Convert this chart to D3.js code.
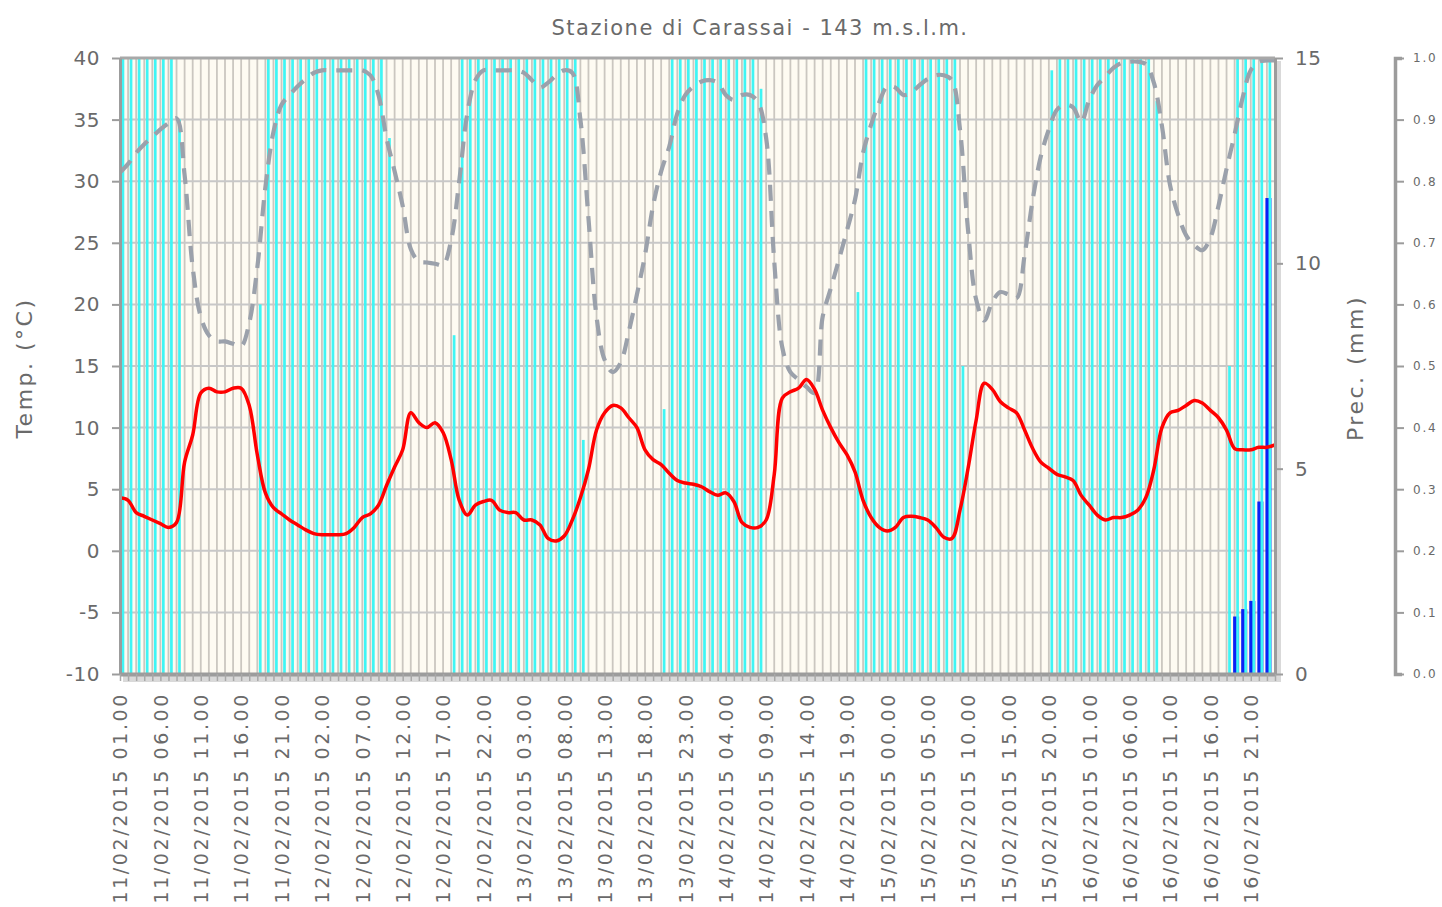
<!DOCTYPE html>
<html><head><meta charset="utf-8">
<script src="https://cdn.jsdelivr.net/npm/d3@7/dist/d3.min.js"></script>
<style>
html,body{margin:0;padding:0;background:#fff;}
svg{display:block;font-family:"DejaVu Sans",Verdana,sans-serif;}
</style></head>
<body>
<svg id="chart" width="1442" height="907"></svg>
<script>
// ---------------- DATA ----------------
const title = "Stazione di Carassai - 143 m.s.l.m.";

// Temperature (°C), hourly from 11/02/2015 01.00, 144 values
const temperature = [
  4.3,4.1,3.1,2.8,2.5,2.2,1.9,2.3,7.2,9.4,
  12.8,13.2,12.9,12.9,13.2,13.2,11.8,7.8,4.7,3.5,
  3.0,2.5,2.1,1.7,1.4,1.3,1.3,1.3,1.4,1.9,
  2.7,3.0,3.7,5.3,6.8,8.2,11.2,10.4,10.0,10.4,
  9.6,7.4,4.1,2.9,3.7,4.0,4.1,3.3,3.1,3.1,
  2.5,2.5,2.1,1.0,0.8,1.2,2.5,4.3,6.6,9.8,
  11.2,11.8,11.6,10.8,10.0,8.2,7.4,7.0,6.3,5.7,
  5.5,5.4,5.2,4.8,4.5,4.7,4.0,2.3,1.9,1.9,
  2.5,6.2,12.4,12.9,13.2,13.9,13.1,11.4,10.0,8.8,
  7.8,6.4,4.1,2.7,1.9,1.6,1.9,2.7,2.8,2.7,
  2.5,1.9,1.1,1.0,3.3,6.7,10.6,13.6,13.1,12.1,
  11.6,11.2,9.8,8.3,7.2,6.7,6.2,6.0,5.7,4.5,
  3.7,2.9,2.5,2.7,2.7,2.9,3.3,4.3,6.6,10.0,
  11.2,11.4,11.8,12.2,12.0,11.4,10.8,9.8,8.3,8.2,
  8.2,8.4,8.4,8.6
];

// Relative humidity (0-1), hourly, 144 values
const humidity = [
  .814,.828,.846,.860,.872,.884,.894,.902,.810,.660,
  .580,.550,.540,.540,.536,.532,.570,.660,.790,.880,
  .924,.940,.954,.966,.976,.980,.980,.980,.980,.980,
  .980,.972,.940,.870,.816,.760,.690,.670,.668,.666,
  .664,.704,.800,.910,.964,.980,.980,.980,.980,.980,
  .976,.964,.952,.960,.972,.980,.976,.900,.740,.580,
  .510,.490,.506,.556,.616,.680,.760,.816,.856,.910,
  .940,.954,.962,.964,.960,.940,.932,.940,.940,.928,
  .870,.670,.530,.490,.478,.466,.456,.580,.626,.672,
  .720,.770,.846,.892,.928,.954,.952,.940,.944,.956,
  .966,.972,.972,.964,.884,.720,.608,.574,.604,.620,
  .616,.610,.680,.770,.840,.884,.916,.924,.920,.896,
  .932,.956,.970,.984,.992,.994,.994,.990,.960,.890,
  .794,.746,.712,.696,.688,.708,.760,.820,.876,.936,
  .980,.994,.996,.996
];

// Leaf wetness (0-1), hourly, 144 values (cyan bars)
const wetness = [
  1,1,1,1,1,1,1,.9,0,0,
  0,0,0,0,0,0,0,.6,1,1,
  1,1,1,1,1,1,1,1,1,1,
  1,1,1,.87,0,0,0,0,0,0,
  0,.55,1,1,1,1,1,1,1,1,
  1,1,1,1,1,1,1,.38,0,0,
  0,0,0,0,0,0,0,.43,1,1,
  1,1,1,1,1,1,1,1,1,.95,
  0,0,0,0,0,0,0,0,0,0,
  0,.62,1,1,1,1,1,1,1,1,
  1,1,1,1,.5,0,0,0,0,0,
  0,0,0,0,0,.98,1,1,1,1,
  1,1,1,1,1,1,1,1,.93,0,
  0,0,0,0,0,0,0,.5,1,1,
  1,1,1,0
];

// Precipitation (mm), hourly, 144 values
const precipitation = [
  0,0,0,0,0,0,0,0,0,0, 0,0,0,0,0,0,0,0,0,0,
  0,0,0,0,0,0,0,0,0,0, 0,0,0,0,0,0,0,0,0,0,
  0,0,0,0,0,0,0,0,0,0, 0,0,0,0,0,0,0,0,0,0,
  0,0,0,0,0,0,0,0,0,0, 0,0,0,0,0,0,0,0,0,0,
  0,0,0,0,0,0,0,0,0,0, 0,0,0,0,0,0,0,0,0,0,
  0,0,0,0,0,0,0,0,0,0, 0,0,0,0,0,0,0,0,0,0,
  0,0,0,0,0,0,0,0,0,0, 0,0,0,0,0,0,0,0,1.40,1.58,
  1.78,4.20,11.59,0
];

// X tick labels every 5 hours
const xTickLabels = [
  "11/02/2015 01.00","11/02/2015 06.00","11/02/2015 11.00","11/02/2015 16.00","11/02/2015 21.00",
  "12/02/2015 02.00","12/02/2015 07.00","12/02/2015 12.00","12/02/2015 17.00","12/02/2015 22.00",
  "13/02/2015 03.00","13/02/2015 08.00","13/02/2015 13.00","13/02/2015 18.00","13/02/2015 23.00",
  "14/02/2015 04.00","14/02/2015 09.00","14/02/2015 14.00","14/02/2015 19.00","15/02/2015 00.00",
  "15/02/2015 05.00","15/02/2015 10.00","15/02/2015 15.00","15/02/2015 20.00","16/02/2015 01.00",
  "16/02/2015 06.00","16/02/2015 11.00","16/02/2015 16.00","16/02/2015 21.00"
];
const tempTicks = [-10,-5,0,5,10,15,20,25,30,35,40];
const precTicks = [0,5,10,15];
const fracTicks = [0,0.1,0.2,0.3,0.4,0.5,0.6,0.7,0.8,0.9,1.0];

// ---------------- CHART ----------------
const svg = d3.select("#chart");
const L = 120, R = 1275, T = 58, B = 674;
const n = temperature.length;
const hours = d3.range(n);

const x = d3.scaleLinear().domain([0, n - 1]).range([L, R]);
const yT = d3.scaleLinear().domain([-10, 40]).range([B, T]);
const yP = d3.scaleLinear().domain([0, 15]).range([B, T]);
const yH = d3.scaleLinear().domain([0, 1]).range([B, T]);

const axisCol = "#9c9c9c", textCol = "#6a6a6a";

// shadow + background
svg.append("rect").attr("x", L + 3).attr("y", T + 3).attr("width", R - L + 3).attr("height", B - T + 5).attr("fill", "#d9d9d9");
svg.append("rect").attr("x", L).attr("y", T).attr("width", R - L).attr("height", B - T).attr("fill", "#fefbf2");

svg.append("clipPath").attr("id", "pc").append("rect")
  .attr("x", L).attr("y", T).attr("width", R - L).attr("height", B - T);
const plot = svg.append("g").attr("clip-path", "url(#pc)");

// vertical grid lines (each hour)
plot.append("g").selectAll("line").data(hours).join("line")
  .attr("x1", d => x(d)).attr("x2", d => x(d)).attr("y1", T).attr("y2", B)
  .attr("stroke", "#cbc7c0").attr("stroke-width", 1.8);
// horizontal grid lines
plot.append("g").selectAll("line").data(tempTicks).join("line")
  .attr("x1", L).attr("x2", R).attr("y1", d => yT(d)).attr("y2", d => yT(d))
  .attr("stroke", "#c8c8c8").attr("stroke-width", 2);

// precipitation bars
plot.append("g").selectAll("rect").data(hours.filter(i => precipitation[i] > 0)).join("rect")
  .attr("x", d => x(d) - 1.5).attr("width", 6)
  .attr("y", d => yP(precipitation[d])).attr("height", d => B - yP(precipitation[d]))
  .attr("fill", "#0a22f5");

// wetness cyan bars
plot.append("g").selectAll("rect").data(hours.filter(i => wetness[i] > 0)).join("rect")
  .attr("x", d => x(d) + 1.6).attr("width", 2.7)
  .attr("y", d => yH(wetness[d])).attr("height", d => B - yH(wetness[d]))
  .attr("fill", "#3ff5f5");

// humidity dashed line
plot.append("path").datum(hours)
  .attr("d", d3.line().x(d => x(d)).y(d => yH(humidity[d])).curve(d3.curveCatmullRom))
  .attr("fill", "none").attr("stroke", "#9ba1ab").attr("stroke-width", 4.2)
  .attr("stroke-dasharray", "16,10");

// temperature red line
plot.append("path").datum(hours)
  .attr("d", d3.line().x(d => x(d)).y(d => yT(temperature[d])).curve(d3.curveCatmullRom))
  .attr("fill", "none").attr("stroke", "#ff0000").attr("stroke-width", 3.5)
  .attr("stroke-linejoin", "round");

// frame: top line
svg.append("line").attr("x1", L).attr("x2", R).attr("y1", T).attr("y2", T)
  .attr("stroke", "#a8a8a8").attr("stroke-width", 3);

function styleAxis(g, fs, ls) {
  g.select(".domain").attr("stroke", axisCol).attr("stroke-width", 3);
  g.selectAll(".tick line").attr("stroke", axisCol).attr("stroke-width", 2);
  g.selectAll(".tick text").attr("fill", textCol).style("font-size", fs + "px")
    .style("letter-spacing", ls + "px").style("font-family", "DejaVu Sans, Verdana, sans-serif");
}

// left axis
const gl = svg.append("g").attr("transform", `translate(${L},0)`)
  .call(d3.axisLeft(yT).tickValues(tempTicks).tickSize(8).tickPadding(12).tickSizeOuter(0)
    .tickFormat(d => String(d)));
styleAxis(gl, 20, 0.5);

// right axis (precipitation)
const gr = svg.append("g").attr("transform", `translate(${R},0)`)
  .call(d3.axisRight(yP).tickValues(precTicks).tickSize(8).tickPadding(12).tickSizeOuter(0)
    .tickFormat(d => String(d)));
styleAxis(gr, 20, 0.5);

// bottom axis: hourly ticks
const gb = svg.append("g").attr("transform", `translate(0,${B})`)
  .call(d3.axisBottom(x).tickValues(hours).tickSize(7).tickFormat("").tickSizeOuter(0));
styleAxis(gb, 18, 0);
gb.select(".domain").attr("stroke-width", 4);
gb.selectAll(".tick line").attr("stroke-width", 1.5).attr("stroke", "#a8a8a8");

// bottom labels (rotated)
const labelIdx = xTickLabels.map((_, k) => k * 5);
const gx = svg.append("g").attr("transform", `translate(0,${B + 18})`)
  .call(d3.axisBottom(x).tickValues(labelIdx).tickSize(0).tickFormat((d, k) => xTickLabels[k]));
gx.select(".domain").remove();
gx.selectAll(".tick text")
  .attr("transform", "rotate(-90)").attr("text-anchor", "end")
  .attr("x", 0).attr("y", 0).attr("dy", "0.36em")
  .attr("fill", textCol).style("font-size", "19px").style("letter-spacing", "2.6px")
  .style("font-family", "DejaVu Sans, Verdana, sans-serif");

// far right axis (0-1)
const gf = svg.append("g").attr("transform", "translate(1395,0)")
  .call(d3.axisRight(yH).tickValues(fracTicks).tickSize(9).tickPadding(9).tickSizeOuter(7)
    .tickFormat(d3.format(".1f")));
styleAxis(gf, 12, 1.8);
gf.select(".domain").attr("stroke-width", 3.5);

// titles
svg.append("text").attr("x", 760).attr("y", 35).attr("text-anchor", "middle")
  .attr("fill", textCol).style("font-size", "21px").style("letter-spacing", "1.5px")
  .text(title);
svg.append("text").attr("transform", "translate(32,368) rotate(-90)").attr("text-anchor", "middle")
  .attr("fill", textCol).style("font-size", "22px").style("letter-spacing", "2.5px")
  .text("Temp. (°C)");
svg.append("text").attr("transform", "translate(1363,368) rotate(-90)").attr("text-anchor", "middle")
  .attr("fill", textCol).style("font-size", "22px").style("letter-spacing", "2.5px")
  .text("Prec. (mm)");
</script>
</body></html>
